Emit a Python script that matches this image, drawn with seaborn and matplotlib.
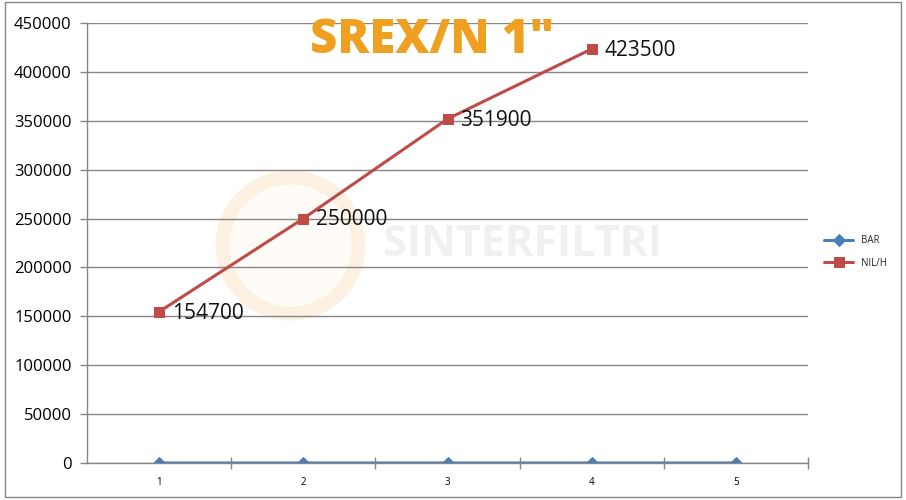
import matplotlib.pyplot as plt
import seaborn as sns
from matplotlib.patches import Rectangle

# data
categories = [1, 2, 3, 4, 5]
bar_values = [1, 2, 3, 4, 5]
nlh_categories = [1, 2, 3, 4]
nlh_values = [154700, 250000, 351900, 423500]
y_ticks = [0, 50000, 100000, 150000, 200000, 250000, 300000, 350000, 400000, 450000]

sns.set_theme(style="white")
plt.rcParams['font.family'] = ['Open Sans', 'DejaVu Sans']

fig = plt.figure(figsize=(9.06, 5.0), dpi=100)
ax = fig.add_axes([0.096, 0.074, 0.796, 0.880])

# faint watermark (logo ring + name)
ax.plot([1.91], [223000], marker='o', markersize=98, markerfacecolor='#FFFBF4',
        markeredgecolor='#FCEEDC', markeredgewidth=10, alpha=0.8, zorder=0)
ax.text(3.52, 223000, "SINTERFILTRI", fontsize=31, fontweight='bold', color='#F0F0F0',
        ha='center', va='center', zorder=0)

sns.lineplot(x=categories, y=bar_values, ax=ax, color='#4A7EBB', marker='D',
             markersize=6, markeredgecolor='#4A7EBB', linewidth=2.2, label='BAR')
sns.lineplot(x=nlh_categories, y=nlh_values, ax=ax, color='#BE4B48', marker='s',
             markersize=7, markeredgecolor='#BE4B48', linewidth=2.2, label='NlL/H')

for xv, yv in zip(nlh_categories, nlh_values):
    ax.annotate(str(yv), (xv, yv), xytext=(9, -1), textcoords='offset points',
                fontsize=15, va='center', ha='left', color='#111111')

ax.set_xlim(0.5, 5.5)
ax.set_ylim(0, 450000)
ax.set_yticks(y_ticks)
ax.set_yticklabels([str(v) for v in y_ticks], fontsize=12, color='black')
ax.set_xticks(categories)
ax.set_xticklabels([str(c) for c in categories], fontsize=7, color='black')
ax.set_xticks([1.5, 2.5, 3.5, 4.5, 5.5], minor=True)
ax.tick_params(axis='x', which='major', length=0, pad=10)
ax.tick_params(axis='x', which='minor', length=8, direction='inout', color='#868686', width=1, bottom=True)
ax.tick_params(axis='y', length=5, direction='out', color='#868686', width=1, left=True, pad=6)
ax.grid(axis='y', color='#868686', linewidth=1)
ax.set_axisbelow(True)
for side in ['top', 'right']:
    ax.spines[side].set_visible(False)
for side in ['left', 'bottom']:
    ax.spines[side].set_color('#868686')
    ax.spines[side].set_linewidth(1)

ax.set_xlabel('')
ax.set_ylabel('')
ax.legend(loc='center left', bbox_to_anchor=(1.01, 0.48), frameon=False, fontsize=7,
          handlelength=3, labelspacing=1.2)

fig.text(0.477, 0.918, 'SREX/N 1"', fontsize=34, fontweight='heavy', color='#F0A020',
         ha='center', va='center')

fig.patches.append(Rectangle((0.006, 0.006), 0.988, 0.99, transform=fig.transFigure,
                             fill=False, edgecolor='#868686', linewidth=1))

fig.savefig('out.png', dpi=100)
